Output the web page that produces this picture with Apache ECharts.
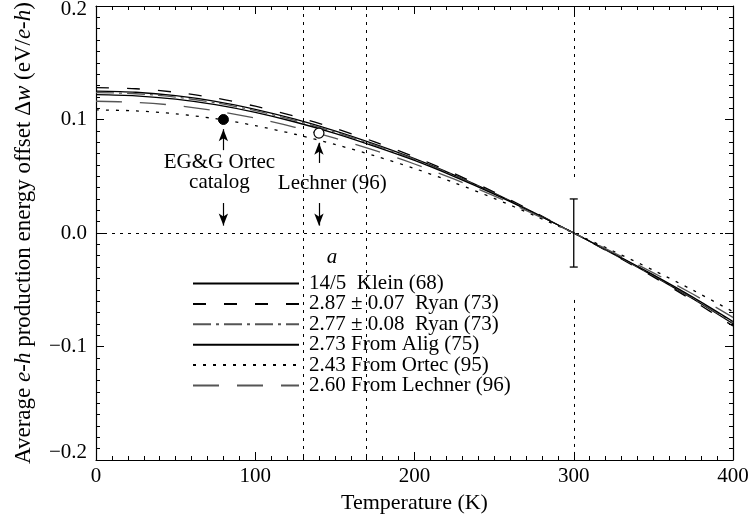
<!DOCTYPE html>
<html>
<head>
<meta charset="utf-8">
<script src="https://cdn.jsdelivr.net/npm/echarts@6/dist/echarts.min.js"></script>
<style>
  html, body { margin: 0; padding: 0; background: #fff; }
  #chart { width: 751px; height: 514px; }
</style>
</head>
<body>
<div id="chart"></div>
<script>
// temperatures (K) at which the curves were read
const temps = [0, 25, 50, 75, 100, 125, 150, 175, 200, 225, 250, 275, 300, 325, 350, 375, 400]

// Δw (eV/e-h)
const klein68 = [0.1250, 0.1240, 0.1210, 0.1160, 0.1090, 0.1003, 0.0900, 0.0783, 0.0655, 0.0510, 0.0352, 0.0180, 0, -0.0186, -0.0378, -0.0582, -0.0800]
const ryan287 = [0.1281, 0.1271, 0.1240, 0.1189, 0.1117, 0.1028, 0.0923, 0.0803, 0.0671, 0.0523, 0.0361, 0.0185, 0, -0.0191, -0.0387, -0.0597, -0.0820]
const ryan277 = [0.1237, 0.1227, 0.1197, 0.1148, 0.1078, 0.0992, 0.0890, 0.0775, 0.0648, 0.0505, 0.0348, 0.0178, 0, -0.0184, -0.0374, -0.0576, -0.0791]
const alig273 = [0.1219, 0.1209, 0.1180, 0.1131, 0.1063, 0.0978, 0.0878, 0.0763, 0.0639, 0.0497, 0.0343, 0.0176, 0, -0.0181, -0.0369, -0.0567, -0.0780]
const ortec243 = [0.1085, 0.1076, 0.1050, 0.1007, 0.0946, 0.0870, 0.0781, 0.0680, 0.0568, 0.0443, 0.0305, 0.0156, 0, -0.0161, -0.0328, -0.0505, -0.0694]
const lechner260 = [0.1161, 0.1151, 0.1124, 0.1077, 0.1012, 0.0931, 0.0836, 0.0727, 0.0608, 0.0474, 0.0327, 0.0167, 0, -0.0173, -0.0351, -0.0540, -0.0743]

const seriesNames = [
    '14/5  Klein (68)',
    '2.87 ± 0.07  Ryan (73)',
    '2.77 ± 0.08  Ryan (73)',
    '2.73 From Alig (75)',
    '2.43 From Ortec (95)',
    '2.60 From Lechner (96)'
]

// measured points
const ortecCatalogPoint = [80, 0.100]
const lechnerPoint = [140, 0.088]

// error bar at 300 K: [T, low, high]
const errorBars = [[300, -0.03, 0.03]]

// dotted guides: [x1, y1, x2, y2]
const guideLines = [
    [130, 0.2, 130, -0.2],
    [170, 0.2, 170, -0.2],
    [300, 0.2, 300, 0.045],
    [300, -0.059, 300, -0.2],
    [0, 0, 400, 0]
]

// arrows: [T, from, to]
const arrows = [
    [80, 0.073, 0.0915],
    [80, 0.0264, 0.0065],
    [140, 0.0617, 0.0795],
    [140, 0.0264, 0.0065]
]

// text notes: [text, T, value]
const notes = [
    ['EG&G Ortec\ncatalog', 77.5, 0.0529],
    ['Lechner (96)', 148.4, 0.044],
    ['a', 148.2, -0.022]
]

const FONT = 'Liberation Serif'

const curveValues = [klein68, ryan287, ryan277, alig273, ortec243, lechner260]
const curveStyles = [
    { color: '#000', type: 'solid' },
    { color: '#000', type: [13, 18] },
    { color: '#555', type: [18, 5, 3, 5] },
    { color: '#000', type: 'solid' },
    { color: '#000', type: [3, 7] },
    { color: '#555', type: [26, 18] }
]

const chart = echarts.init(document.getElementById('chart'))

const axisCommon = {
    type: 'value',
    axisLine: { show: true, onZero: false, lineStyle: { color: '#000', width: 1.2 } },
    axisTick: { show: true, inside: true, length: 8, lineStyle: { color: '#000' } },
    minorTick: { show: true, splitNumber: 10, length: 4, lineStyle: { color: '#000' } },
    splitLine: { show: false },
    minorSplitLine: { show: false }
}

const curveSeries = curveValues.map((vals, i) => ({
    name: seriesNames[i],
    type: 'line',
    data: temps.map((t, j) => [t, vals[j]]),
    smooth: 0.3,
    showSymbol: false,
    symbol: 'none',
    lineStyle: { color: curveStyles[i].color, type: curveStyles[i].type, width: 1.3 },
    itemStyle: { color: curveStyles[i].color },
    z: 3
}))

// y tick label text, top/bottom ones nudged inside the frame
const yLabel = v => {
    const txt = (v < -1e-9 ? '\u2212' : '') + Math.abs(v).toFixed(1)
    if (v > 0.15) return '{top|' + txt + '}'
    if (v < -0.15) return '{bot|' + txt + '}'
    return txt
}

const option = {
    animation: false,
    backgroundColor: '#fff',
    grid: { left: 96, right: 18, top: 6, bottom: 54, outerBoundsMode: 'none', containLabel: false },
    xAxis: [
        {
            ...axisCommon,
            position: 'bottom',
            min: 0, max: 400, interval: 100,
            axisLabel: { color: '#000', fontFamily: FONT, fontSize: 21, margin: 6 },
            name: 'Temperature (K)',
            nameLocation: 'middle',
            nameGap: 21,
            nameTextStyle: { color: '#000', fontFamily: FONT, fontSize: 22 }
        },
        {
            ...axisCommon,
            position: 'top',
            min: 0, max: 400, interval: 100,
            axisLabel: { show: false }
        }
    ],
    yAxis: [
        {
            ...axisCommon,
            position: 'left',
            min: -0.2, max: 0.2, interval: 0.1,
            axisLabel: {
                color: '#000', fontFamily: FONT, fontSize: 21, margin: 9,
                formatter: yLabel,
                rich: {
                    top: { fontFamily: FONT, fontSize: 21, color: '#000', padding: [7, 0, 0, 0] },
                    bot: { fontFamily: FONT, fontSize: 21, color: '#000', padding: [0, 0, 16, 0] }
                }
            },
            name: '{n|Average }{i|e-h}{n| production energy offset Δ}{i|w}{n| (eV/}{i|e-h}{n|)}',
            nameLocation: 'middle',
            nameGap: 61,
            nameTextStyle: {
                color: '#000',
                rich: {
                    n: { fontFamily: FONT, fontSize: 23, color: '#000' },
                    i: { fontFamily: FONT, fontSize: 23, color: '#000', fontStyle: 'italic' }
                }
            }
        },
        {
            ...axisCommon,
            position: 'right',
            min: -0.2, max: 0.2, interval: 0.1,
            axisLabel: { show: false }
        }
    ],
    legend: {
        data: seriesNames,
        orient: 'vertical',
        left: 186,
        top: 265,
        padding: [8, 6, 6, 6],
        itemGap: -0.6,
        itemWidth: 106,
        itemHeight: 14,
        backgroundColor: '#fff',
        selectedMode: false,
        itemStyle: { opacity: 0 },
        textStyle: { color: '#000', fontFamily: FONT, fontSize: 21, lineHeight: 19.6, padding: [0, 0, 0, 5] }
    },
    series: [
        ...curveSeries,
        {
            type: 'line',
            data: [],
            silent: true,
            markLine: {
                silent: true,
                symbol: ['none', 'none'],
                label: { show: false },
                lineStyle: { color: '#000', type: [3, 5], width: 1 },
                data: guideLines.map(g => [{ coord: [g[0], g[1]] }, { coord: [g[2], g[3]] }])
            },
            z: 1
        },
        {
            type: 'line',
            data: [],
            silent: true,
            markLine: {
                silent: true,
                symbol: ['none', 'arrow'],
                symbolSize: [7, 12],
                label: { show: false },
                lineStyle: { color: '#000', type: 'solid', width: 1.2 },
                data: arrows.map(a => [{ coord: [a[0], a[1]] }, { coord: [a[0], a[2]] }])
            },
            markPoint: {
                silent: true,
                symbol: 'circle',
                symbolSize: 1,
                itemStyle: { color: 'rgba(0,0,0,0)' },
                label: {
                    show: true,
                    position: 'inside',
                    color: '#000',
                    fontFamily: FONT,
                    fontSize: 21,
                    lineHeight: 20,
                    formatter: p => p.name
                },
                data: notes.map(n => ({
                    name: n[0],
                    coord: [n[1], n[2]],
                    label: n[0] === 'a' ? { fontStyle: 'italic' } : {}
                }))
            },
            z: 4
        },
        {
            type: 'custom',
            silent: true,
            data: errorBars,
            encode: { x: 0, y: [1, 2] },
            renderItem: (params, api) => {
                const x = api.value(0)
                const lo = api.coord([x, api.value(1)])
                const hi = api.coord([x, api.value(2)])
                const w = 4
                const st = { stroke: '#000', lineWidth: 1.3 }
                return {
                    type: 'group',
                    children: [
                        { type: 'line', shape: { x1: hi[0], y1: hi[1], x2: lo[0], y2: lo[1] }, style: st },
                        { type: 'line', shape: { x1: hi[0] - w, y1: hi[1], x2: hi[0] + w, y2: hi[1] }, style: st },
                        { type: 'line', shape: { x1: lo[0] - w, y1: lo[1], x2: lo[0] + w, y2: lo[1] }, style: st }
                    ]
                }
            },
            z: 5
        },
        {
            type: 'scatter',
            silent: true,
            data: [ortecCatalogPoint],
            symbol: 'circle',
            symbolSize: 10,
            itemStyle: { color: '#000', borderColor: '#000', borderWidth: 1, opacity: 1 },
            z: 6
        },
        {
            type: 'scatter',
            silent: true,
            data: [lechnerPoint],
            symbol: 'circle',
            symbolSize: 10,
            itemStyle: { color: '#fff', borderColor: '#000', borderWidth: 1.2, opacity: 1 },
            z: 6
        }
    ]
}

chart.setOption(option)
window.addEventListener('resize', () => chart.resize())
</script>
</body>
</html>
